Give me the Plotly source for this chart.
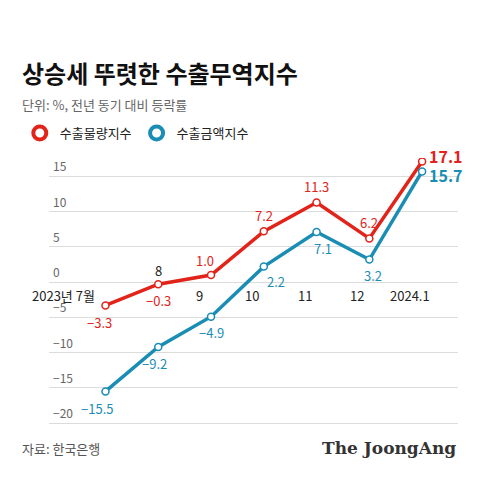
import plotly.graph_objects as go

months = ["2023년 7월", "8", "9", "10", "11", "12", "2024.1"]
volume = [-3.3, -0.3, 1.0, 7.2, 11.3, 6.2, 17.1]
amount = [-15.5, -9.2, -4.9, 2.2, 7.1, 3.2, 15.7]
yticks = [15, 10, 5, 0, -5, -10, -15, -20]

RED = "#e2231a"
BLUE = "#1a8db4"
FONT = "Noto Sans CJK KR"

W, H = 480, 483
TOP, BOT = 150, 430   # plot area in pixels


def py(p):
    return (BOT - p) / (BOT - TOP)


fig = go.Figure()
x = list(range(len(months)))
for name, vals, col in [("수출물량지수", volume, RED), ("수출금액지수", amount, BLUE)]:
    fig.add_trace(go.Scatter(x=x, y=vals, mode="lines+markers", showlegend=False,
                             line=dict(color=col, width=3.5),
                             marker=dict(size=7, color="white", line=dict(color=col, width=1.5))))
    fig.add_trace(go.Scatter(x=[None], y=[None], mode="markers", name=name,
                             marker=dict(size=13, color="white", line=dict(color=col, width=4))))

ann = []
# y tick labels
for t in yticks:
    ann.append(dict(x=0, xref="paper", y=t, yref="y", text=str(t).replace("-", "−"), showarrow=False,
                    xanchor="left", yanchor="bottom", font=dict(size=12, color="#666"), xshift=2))
# x labels
for i, m in enumerate(months):
    if i == 0:
        continue
    ys = 12 if i == 1 else -13
    xs = 0 if i == 1 else -12
    ann.append(dict(x=i, y=0, text=m, showarrow=False, yshift=ys, xshift=xs,
                    font=dict(size=13, color="#222")))
ann.append(dict(x=0, y=0, text=months[0], showarrow=False, yshift=-13, xshift=-42,
                font=dict(size=13, color="#222")))

# value labels
vol_shift = {0: (-6, -17), 1: (0, -16), 2: (-6, 15), 3: (0, 16), 4: (0, 16), 5: (0, 16)}
for i, v in enumerate(volume[:6]):
    xs, ys = vol_shift[i]
    ann.append(dict(x=i, y=v, text=f"{v:.1f}".replace("-", "−"), showarrow=False,
                    xshift=xs, yshift=ys, font=dict(size=13, color=RED)))
amt_shift = {0: (-8, -17), 1: (-4, -16), 2: (0, -16), 3: (12, -15), 4: (6, -16), 5: (4, -16)}
for i, v in enumerate(amount[:6]):
    xs, ys = amt_shift[i]
    ann.append(dict(x=i, y=v, text=f"{v:.1f}".replace("-", "−"), showarrow=False,
                    xshift=xs, yshift=ys, font=dict(size=13, color=BLUE)))
ann.append(dict(x=6, y=volume[6], text=f"<b>{volume[6]}</b>", showarrow=False, xanchor="left",
                xshift=5, yshift=6, font=dict(size=16, color=RED)))
ann.append(dict(x=6, y=amount[6], text=f"<b>{amount[6]}</b>", showarrow=False, xanchor="left",
                xshift=5, yshift=-4, font=dict(size=16, color=BLUE)))

# title, subtitle, footer
ann.append(dict(x=-30 / 420, xref="paper", y=py(45), yref="paper", text="<b>상승세 뚜렷한 수출무역지수</b>",
                showarrow=False, xanchor="left", font=dict(size=24, color="#111")))
ann.append(dict(x=-30 / 420, xref="paper", y=py(85), yref="paper", text="단위: %, 전년 동기 대비 등락률",
                showarrow=False, xanchor="left", font=dict(size=13, color="#666")))
ann.append(dict(x=-30 / 420, xref="paper", y=py(452), yref="paper", text="자료: 한국은행",
                showarrow=False, xanchor="left", font=dict(size=13, color="#555")))
ann.append(dict(x=1.0, xref="paper", y=py(452), yref="paper", text="<b>The JoongAng</b>",
                showarrow=False, xanchor="right", font=dict(size=17, color="#333", family="DejaVu Serif")))

fig.update_layout(
    width=W, height=H,
    margin=dict(l=30, r=30, t=TOP, b=H - BOT),
    paper_bgcolor="white", plot_bgcolor="white",
    font=dict(family=FONT),
    xaxis=dict(range=[-1.07, 6.68], showticklabels=False, showgrid=False, zeroline=False, fixedrange=True),
    yaxis=dict(range=[-22.1, 17.6], tickvals=yticks, showticklabels=False, gridcolor="#dcdcdc",
               gridwidth=1, zeroline=False),
    legend=dict(orientation="h", x=-30 / 420, y=py(125), yanchor="middle", xanchor="left",
                font=dict(size=13, color="#222"), itemwidth=30),
    annotations=ann,
)

fig.write_html("out.html")
